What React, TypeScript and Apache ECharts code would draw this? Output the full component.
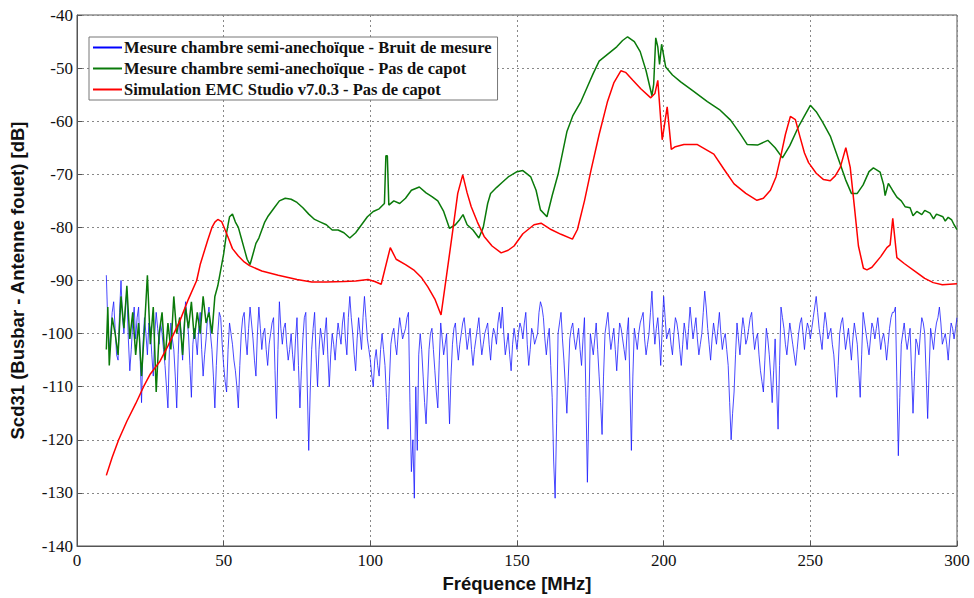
import React, { useEffect, useRef } from "react";
import * as echarts from "echarts";

const xTicks = [0, 50, 100, 150, 200, 250, 300];
const seriesNames = [
  "Mesure chambre semi-anechoïque - Bruit de mesure",
  "Mesure chambre semi-anechoïque - Pas de capot",
  "Simulation EMC Studio v7.0.3 - Pas de capot",
];

// Blue noise: values at whole MHz from 10 to 300
const blueStart = 10;
const blueVal = [
  -89, -103, -96, -99, -105, -90, -100, -92, -107, -98,
  -101, -95, -113, -97, -104, -99, -108, -96, -102, -100,
  -106, -114, -98, -103, -114, -97, -105, -94, -100, -112,
  -99, -104, -96, -108, -101, -95, -103, -114, -100, -97,
  -106, -111, -98, -102, -107, -114, -100, -96, -104, -95,
  -101, -108, -95, -103, -99, -106, -100, -97, -116, -94,
  -102, -98, -105, -100, -107, -97, -114, -101, -96, -122,
  -103, -96, -110, -99, -104, -97, -110, -100, -105, -98,
  -102, -96, -104, -93, -100, -107, -97, -103, -93, -101,
  -105, -110, -103, -108, -100, -106, -118, -102, -99, -104,
  -97, -101, -99, -96, -126, -131, -122, -100, -108, -117,
  -103, -99, -107, -114, -98, -104, -100, -117, -102, -98,
  -105, -100, -97, -103, -99, -106, -101, -97, -104, -100,
  -98, -105, -99, -102, -96, -95, -104, -100, -107, -99,
  -103, -98, -101, -96, -106, -99, -102, -100, -94, -97,
  -104, -99, -112, -131, -100, -96, -105, -115, -101, -98,
  -103, -99, -106, -97, -128, -100, -104, -98, -108, -119,
  -100, -96, -103, -99, -107, -98, -101, -105, -97, -122,
  -99, -103, -98, -96, -104, -100, -92, -102, -97, -106,
  -93, -101, -99, -104, -97, -100, -106, -98, -103, -95,
  -101, -97, -104, -100, -92, -99, -105, -98, -102, -96,
  -103, -100, -106, -120, -111, -98, -104, -97, -102, -99,
  -96, -103, -100, -107, -111, -99, -104, -113, -101, -118,
  -95, -99, -104, -98, -102, -106, -100, -97, -103, -98,
  -101, -97, -93, -99, -103, -96, -101, -99, -104, -112,
  -100, -97, -103, -99, -105, -98, -102, -112, -96, -100,
  -104, -98, -101, -97, -103, -100, -105, -99, -96, -95,
  -123, -102, -98, -103, -99, -115, -101, -104, -97, -100,
  -116, -99, -103, -98, -95, -102, -100, -105, -98, -101,
  -97,
];
// Blue noise: values at half MHz from 10.5 to 299.5
const blueHalf = [
  -98, -100, -94, -104, -96, -97, -95, -101, -103, -95,
  -97, -104, -102, -100, -98, -104, -100, -99, -98, -103,
  -110, -103, -101, -108, -104, -100, -99, -97, -106, -102,
  -101, -99, -103, -104, -97, -100, -108, -106, -96, -102,
  -109, -103, -100, -105, -110, -106, -97, -101, -99, -98,
  -105, -100, -99, -100, -103, -102, -98, -107, -103, -99,
  -99, -102, -103, -104, -101, -106, -107, -97, -110, -111,
  -99, -104, -103, -101, -100, -104, -104, -102, -101, -100,
  -98, -101, -97, -97, -104, -101, -100, -97, -97, -103,
  -108, -105, -106, -103, -103, -112, -109, -100, -102, -100,
  -99, -100, -97, -113, -120, -110, -104, -103, -113, -110,
  -100, -103, -111, -105, -101, -102, -109, -108, -99, -102,
  -102, -98, -100, -101, -103, -103, -99, -101, -102, -99,
  -102, -101, -100, -98, -99, -100, -102, -104, -102, -101,
  -100, -99, -98, -102, -103, -100, -101, -96, -95, -101,
  -101, -106, -124, -117, -98, -101, -110, -108, -99, -101,
  -101, -103, -101, -112, -114, -102, -101, -103, -113, -108,
  -98, -100, -101, -103, -102, -99, -103, -100, -110, -108,
  -101, -100, -97, -101, -102, -96, -98, -99, -101, -99,
  -97, -100, -102, -100, -98, -103, -102, -100, -99, -98,
  -99, -101, -102, -96, -95, -102, -101, -100, -99, -100,
  -101, -103, -113, -115, -104, -101, -100, -99, -101, -97,
  -100, -101, -104, -109, -105, -101, -108, -107, -110, -106,
  -97, -102, -101, -100, -104, -103, -98, -100, -100, -99,
  -99, -95, -96, -101, -99, -98, -100, -102, -108, -106,
  -98, -100, -101, -102, -101, -100, -107, -104, -98, -102,
  -101, -99, -99, -100, -101, -102, -102, -97, -96, -109,
  -112, -100, -101, -101, -107, -108, -102, -100, -98, -108,
  -107, -101, -100, -97, -98, -101, -102, -101, -99, -99,
];

const greenFreq = [
  10, 10.5, 11, 12, 13, 14, 15, 16, 17, 18, 19, 20, 21, 22, 23, 24, 25, 26, 27, 28, 29,
  30, 31, 32, 33, 34, 35, 36, 37, 38, 39, 40, 41, 42, 43, 44, 45, 46, 47, 48, 49, 50,
  51, 52, 53, 54, 55, 56, 57, 58, 59, 60, 61, 62, 63, 64, 65, 67, 69, 71, 73, 75, 77,
  79, 81, 83, 85, 87, 89, 91, 93, 95, 97, 99, 101, 103, 104.8, 105.3, 105.8, 106.3, 108,
  110, 112, 114, 116.7, 119, 121, 123, 125, 127, 129, 130.5, 131.6, 133, 135, 137, 138.5,
  140, 141, 143, 145, 147, 150, 152, 154.7, 156.5, 158, 160.2, 162, 164, 165.5, 167, 169,
  171.8, 174, 176, 178, 180, 182, 184, 186, 187.7, 190, 192, 194, 196, 196.6, 197.3, 198,
  198.6, 199.3, 200.7, 203, 205.8, 210, 214.9, 219, 222.8, 226, 228.5, 232, 235.5, 238,
  240.5, 243, 246, 248, 250, 252, 254, 256.8, 260, 262, 264, 266, 268, 270, 271.5, 273.8,
  275, 275.5, 276.6, 278, 279.5, 281, 282.3, 284, 285, 286.3, 288, 289, 290.8, 292, 293,
  295.2, 296, 297, 298.2, 299, 300,
];
const greenVal = [
  -103, -95, -106, -97, -100, -104, -93, -99, -91, -101, -96, -104, -98, -108, -99, -89, -102, -95, -111, -100, -96,
  -105, -98, -103, -93, -100, -97, -104, -95, -99, -94, -101, -96, -100, -93, -98, -96, -100, -93, -91, -88, -85,
  -81, -78, -77.5, -79, -80, -82, -84, -86, -87, -85, -83, -82, -80.5, -79, -78, -76.5, -75, -74.5, -74.7, -75.3, -76.3,
  -77.5, -78.5, -79, -79.5, -80.5, -80.5, -81, -82, -81, -79.5, -78, -77, -76.5, -75.5, -66.5, -66.5, -75.8, -75,
  -75.5, -74.5, -73, -72.4, -73.5, -74.2, -75, -77, -80.2, -79.5, -78.5, -77.6, -79.5, -80.5, -82, -80,
  -75.5, -73.6, -72.5, -71.5, -70.5, -69.5, -69.3, -70.5, -73, -76.7, -78, -74, -70, -66, -62, -59,
  -56.3, -53.5, -51, -48.7, -47.8, -46.9, -46, -44.8, -44.1, -45, -46.9, -50.5, -55.2, -53, -44.3, -46,
  -49.3, -45.5, -49.8, -51.3, -52.6, -54.3, -56.3, -57.8, -59.8, -62.3, -64.4, -64.5, -63.6, -65,
  -66.9, -64.6, -61, -59, -57, -58.2, -60, -62.8, -67.8, -71, -73.6, -73.6, -72, -69.5, -68.8, -69.6,
  -72, -74, -71.7, -73, -74.3, -75, -76.1, -76.3, -77.8, -77, -77.6, -76.8, -77.3, -78.4, -77.5,
  -78, -78.8, -78.1, -78.6, -79.5, -80.4,
];

const redFreq = [
  10, 12, 14.2, 17, 20, 22.7, 25, 28.3, 31, 35, 38, 40.8, 42, 44.5, 46, 47, 48, 49.3, 50.5,
  51.6, 53, 55, 57, 58.8, 63, 68.6, 75, 80, 85, 91, 95, 99.2, 101.5, 103.7, 106.8, 108.8,
  112, 115, 117.5, 119.6, 122, 124.1, 126, 128, 129.8, 131.5, 133, 134.4, 136.5, 138.8,
  141.5, 144.6, 147, 149, 152, 155.8, 158.2, 161.6, 165, 168.9, 170.6, 173, 175.2, 178,
  180.8, 183, 185.4, 187, 189.5, 192.2, 195.6, 197, 198, 199.5, 201.2, 202.6, 204, 206.9,
  211.5, 214, 217.1, 220.5, 224, 228, 231.8, 234, 236.4, 238.3, 239.8, 241.5, 243.2, 244.9,
  246.5, 248, 249.4, 252, 254.5, 256.8, 258.5, 260.2, 262.1, 263.6, 265, 266.4, 268.1,
  269.3, 271, 274, 276.1, 277.2, 278.1, 279.5, 282, 286.3, 289, 291.9, 295, 300,
];
const redVal = [
  -126.7, -123.3, -120, -116.5, -113.2, -110, -107.6, -105.2, -102.3, -97.7, -93.5, -90, -87, -82.5, -80, -79, -78.5, -78.9, -80.5,
  -82, -84, -85.4, -86.5, -87.2, -88.2, -89, -89.8, -90.3, -90.3, -90.2, -90.1, -89.8, -90.2, -90.7, -83.8, -86,
  -87, -88.1, -89.5, -91.2, -93.5, -96.5, -89, -81, -73.6, -70.1, -73.5, -76.1, -79, -81.7,
  -83.5, -84.8, -84.3, -83.5, -81.2, -79.5, -79.2, -80.4, -81.3, -82.2, -80.4, -75, -69.3, -62.5,
  -56.4, -52.8, -50.5, -50.8, -52.3, -53.9, -55.6, -54.8, -52.3, -63.5, -57.3, -65.3, -64.8, -64.4,
  -64.4, -65.2, -66.2, -69, -71.8, -73.6, -74.9, -74.5, -73, -70.5, -66.9, -62.5, -59.1, -59.7,
  -63, -66, -67.8, -69.8, -71, -71.2, -70.3, -68.7, -65, -68.7, -76, -83.5, -87.7,
  -88, -87.5, -85.5, -83.8, -83.3, -78.3, -85.7, -86.8, -88.5, -89.6, -90.4, -90.8, -90.6,
];

const blueData: number[][] = [];
blueHalf.forEach((h, i) => {
  blueData.push([blueStart + i, blueVal[i]]);
  blueData.push([blueStart + i + 0.5, h]);
});
blueData.push([blueStart + blueHalf.length, blueVal[blueHalf.length]]);
const greenData = greenFreq.map((f, i) => [f, greenVal[i]]);
const redData = redFreq.map((f, i) => [f, redVal[i]]);

export default function App() {
  const ref = useRef<HTMLDivElement>(null);
  useEffect(() => {
    if (!ref.current) return;
    const chart = echarts.init(ref.current, null, { renderer: "svg" });
    const serif = "'Liberation Serif', 'Times New Roman', serif";
    const sans = "'Liberation Sans', Arial, sans-serif";
    chart.setOption({
      animation: false,
      backgroundColor: "#ffffff",
      grid: {
        left: 75,
        right: 17,
        top: 15,
        bottom: 43,
        show: true,
        borderColor: "#555",
        borderWidth: 1,
        backgroundColor: "transparent",
      },
      legend: {
        show: true,
        orient: "vertical",
        left: 89,
        top: 37,
        data: seriesNames,
        icon: "rect",
        itemWidth: 29,
        itemHeight: 2,
        itemGap: 4,
        backgroundColor: "#fff",
        borderColor: "#777",
        borderWidth: 1,
        padding: [2, 6, 2, 4],
        textStyle: {
          fontFamily: serif,
          fontWeight: "bold",
          fontSize: 16.5,
          color: "#111",
          lineHeight: 17,
          padding: [0, 0, 0, -3],
        },
      },
      xAxis: {
        type: "value",
        min: 0,
        max: 300,
        interval: 50,
        name: "Fréquence [MHz]",
        nameLocation: "middle",
        nameGap: 28,
        nameTextStyle: { fontFamily: sans, fontWeight: "bold", fontSize: 18.5, color: "#111" },
        axisLine: { show: true, lineStyle: { color: "#555" } },
        axisTick: { show: true, inside: true, length: 5, lineStyle: { color: "#555" } },
        axisLabel: {
          fontFamily: serif,
          fontSize: 17,
          color: "#111",
          margin: 6,
          formatter: (v: number) => (xTicks.includes(v) ? String(v) : ""),
        },
        splitLine: { show: true, lineStyle: { color: "#888", type: [2, 3], width: 1 } },
      },
      yAxis: {
        type: "value",
        min: -140,
        max: -40,
        interval: 10,
        name: "Scd31 (Busbar - Antenne fouet) [dB]",
        nameLocation: "middle",
        nameGap: 50,
        nameTextStyle: { fontFamily: sans, fontWeight: "bold", fontSize: 18.5, color: "#111" },
        axisLine: { show: true, lineStyle: { color: "#555" } },
        axisTick: { show: true, inside: true, length: 5, lineStyle: { color: "#555" } },
        axisLabel: { fontFamily: serif, fontSize: 17, color: "#111", margin: 4 },
        splitLine: { show: true, lineStyle: { color: "#888", type: [2, 3], width: 1 } },
      },
      series: [
        {
          name: seriesNames[0],
          type: "line",
          data: blueData,
          symbol: "none",
          lineStyle: { color: "#1a1aff", width: 0.8 },
          itemStyle: { color: "#0000ff" },
          z: 2,
        },
        {
          name: seriesNames[1],
          type: "line",
          data: greenData,
          symbol: "none",
          lineStyle: { color: "#0a7a0a", width: 1.5 },
          itemStyle: { color: "#0a7a0a" },
          z: 3,
        },
        {
          name: seriesNames[2],
          type: "line",
          data: redData,
          symbol: "none",
          lineStyle: { color: "#ff0000", width: 1.5 },
          itemStyle: { color: "#ff0000" },
          z: 4,
        },
      ],
    });
    return () => chart.dispose();
  }, []);
  return <div ref={ref} style={{ width: 974, height: 598, position: "absolute", left: 0, top: 0 }} />;
}
